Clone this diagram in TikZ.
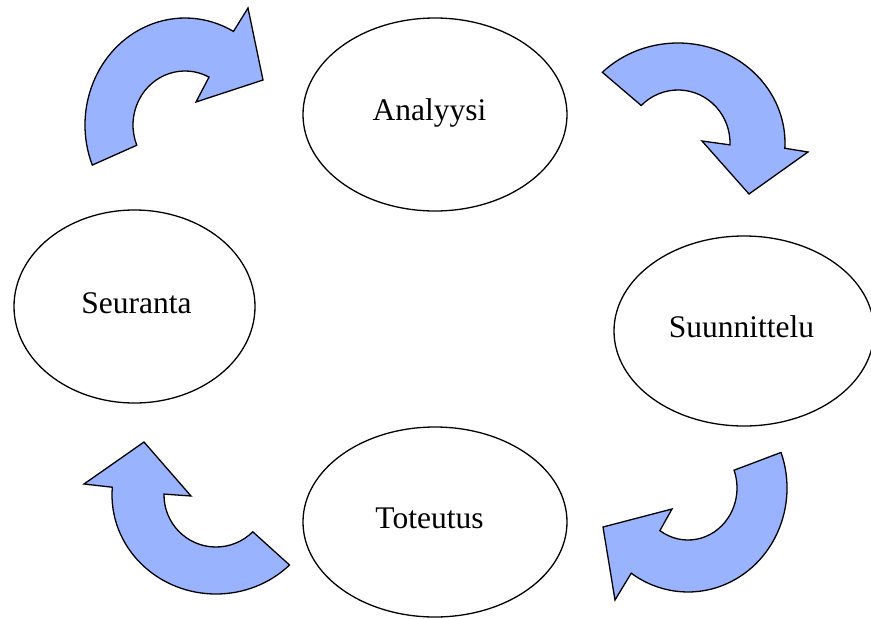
\documentclass[tikz,border=0pt]{standalone}
\usepackage{fontspec}
\setmainfont{Liberation Serif}
\usetikzlibrary{shapes.geometric}
\definecolor{arrowblue}{RGB}{153,179,255}
\begin{document}
\begin{tikzpicture}[x=1pt,y=1pt,
  phase/.style={draw=black, line width=1.3pt, ellipse, inner sep=0pt, fill=white},
  phasetext/.style={anchor=base, font=\fontsize{31.5}{36}\selectfont},
  cyclearrow/.style={draw=black, line width=1.3pt, fill=arrowblue, line join=miter}]
\useasboundingbox (0,0) rectangle (871,-619);

% ellipses
\node[phase, minimum width=264pt, minimum height=193pt] (ana) at (435,-114.5) {};
\node[phase, minimum width=260pt, minimum height=190pt] (suu) at (744,-331) {};
\node[phase, minimum width=264pt, minimum height=190pt] (tot) at (435,-522) {};
\node[phase, minimum width=241pt, minimum height=193pt] (seu) at (134.5,-306.5) {};

% labels
\node[phasetext] (anat) at (429.5,-120) {Analyysi};
\node[phasetext] (suut) at (741.5,-337) {Suunnittelu};
\node[phasetext] (tott) at (429.5,-528) {Toteutus};
\node[phasetext] (seut) at (136.5,-313) {Seuranta};

% arrow 1: Seuranta -> Analyysi (top left)
\path[cyclearrow] ([shift={(185,-125)}]202:100pt and 107pt)
  arc[start angle=202, end angle=61, x radius=100pt, y radius=107pt]
  -- (248,-8) -- (263,-80) -- (196,-102)
  -- ([shift={(185,-125)}]62.5:52pt and 54pt)
  arc[start angle=62.5, end angle=202, x radius=52pt, y radius=54pt] -- cycle;

% arrow 2: Analyysi -> Suunnittelu (top right)
\path[cyclearrow] ([shift={(678,-143)}]135:107pt and 100pt)
  arc[start angle=135, end angle=-3, x radius=107pt, y radius=100pt]
  -- (808,-152) -- (749,-194) -- (702,-141)
  -- ([shift={(678,-143)}]-2:52pt and 53pt)
  arc[start angle=-2, end angle=135, x radius=52pt, y radius=53pt] -- cycle;

% arrow 3: Suunnittelu -> Toteutus (bottom right)
\path[cyclearrow] ([shift={(688,-488)}]20:99pt and 104pt)
  arc[start angle=20, end angle=-125, x radius=99pt, y radius=104pt]
  -- (615,-600) -- (603,-527) -- (672,-509)
  -- ([shift={(688,-488)}]-125:49pt and 52pt)
  arc[start angle=-125, end angle=20, x radius=49pt, y radius=52pt] -- cycle;

% arrow 4: Toteutus -> Seuranta (bottom left)
\path[cyclearrow] ([shift={(216,-495)}]-45:104pt and 99pt)
  arc[start angle=-45, end angle=-184.5, x radius=104pt, y radius=99pt]
  -- (84,-484) -- (144,-442) -- (191,-496)
  -- ([shift={(216,-495)}]-181:52pt and 52pt)
  arc[start angle=-181, end angle=-45, x radius=52pt, y radius=52pt] -- cycle;
\end{tikzpicture}
\end{document}
